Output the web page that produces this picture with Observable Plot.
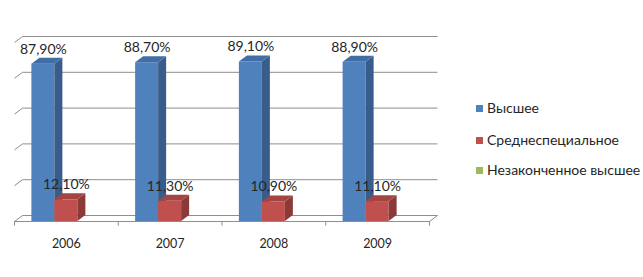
<!DOCTYPE html>
<html>
<head>
<meta charset="utf-8">
<script src="https://cdn.jsdelivr.net/npm/d3@7"></script>
<script src="https://cdn.jsdelivr.net/npm/@observablehq/plot@0.6"></script>
<style>
  html, body { margin: 0; padding: 0; background: #fff; }
  #wrap { position: relative; width: 643px; height: 277px; font-family: Lato, sans-serif; }
  #legend { position: absolute; left: 0; top: 0; }
  .li { position: absolute; left: 476px; display: flex; align-items: center; font-size: 14px; color: #262626; white-space: nowrap; line-height: 16px; }
  .sw { width: 7px; height: 7px; margin-right: 4px; }
</style>
</head>
<body>
<div id="wrap"><div id="chart"></div><div id="legend"></div></div>
<script>
const years = ["2006", "2007", "2008", "2009"];
const higher = [87.9, 88.7, 89.1, 88.9];
const secondarySpecial = [12.1, 11.3, 10.9, 11.1];
const incompleteHigher = [0, 0, 0, 0];
const seriesNames = ["Высшее", "Среднеспециальное", "Незаконченное высшее"];
const seriesFront = ["#4F81BD", "#C0504D", "#9BBB59"];
const seriesSide = ["#385D8A", "#8C3A38", "#71893F"];
const seriesTop = ["#416EA6", "#A54543", "#86A24C"];
const gridTicks = [0, 20, 40, 60, 80, 100];

const seriesValues = [higher, secondarySpecial, incompleteHigher];

// layout parameters
const W = 643, H = 277;
const mL = 14, mR = 214, mT = 42, mB = 56;
const pxPerX = (W - mL - mR) / years.length;
const pxPerY = (H - mT - mB) / 100;
const depthX = 8 / pxPerX;   // 3D depth in data units
const depthY = 6 / pxPerY;
const barW = 23 / pxPerX;
const gap0 = (1 - 3 * barW) / 2;

const bars = [];
seriesValues.forEach((vals, k) => {
  vals.forEach((v, i) => {
    if (v > 0) {
      const xl = i + gap0 + k * barW;
      bars.push({k, i, v, xl, xr: xl + barW, id: k + "-" + i});
    }
  });
});

const sidePts = bars.flatMap(b => [
  {id: b.id, k: b.k, x: b.xr, y1: 0, y2: b.v},
  {id: b.id, k: b.k, x: b.xr + depthX, y1: depthY, y2: b.v + depthY}
]);
const topPts = bars.flatMap(b => [
  {id: b.id, k: b.k, y: b.v, x1: b.xl, x2: b.xr},
  {id: b.id, k: b.k, y: b.v + depthY, x1: b.xl + depthX, x2: b.xr + depthX}
]);

const fmt = v => v.toFixed(2).replace(".", ",") + "%";
const grid = "#8E8E8E";

const marks = [
  Plot.link(gridTicks, {x1: depthX, x2: years.length + depthX, y1: d => d + depthY, y2: d => d + depthY, stroke: grid, strokeWidth: 1}),
  Plot.link(gridTicks, {x1: 0, x2: depthX, y1: d => d, y2: d => d + depthY, stroke: grid, strokeWidth: 1}),
  Plot.link([0], {x1: 0, x2: years.length, y1: 0, y2: 0, stroke: grid, strokeWidth: 1}),
  Plot.link([0], {x1: years.length, x2: years.length + depthX, y1: 0, y2: depthY, stroke: grid, strokeWidth: 1}),
  Plot.ruleX(d3.range(years.length + 1), {y1: 0, y2: -2.6, stroke: grid, strokeWidth: 1}),
];

[0, 1, 2].forEach(k => {
  const bk = bars.filter(b => b.k === k);
  if (!bk.length) return;
  marks.push(
    Plot.rect(bk, {x1: "xl", x2: "xr", y1: 0, y2: "v", fill: seriesFront[k]}),
    Plot.areaY(sidePts.filter(p => p.k === k), {x: "x", y1: "y1", y2: "y2", z: "id", fill: seriesSide[k], curve: "linear"}),
    Plot.areaX(topPts.filter(p => p.k === k), {y: "y", x1: "x1", x2: "x2", z: "id", fill: seriesTop[k], curve: "linear"})
  );
});

marks.push(
  Plot.text(bars, {x: b => (b.xl + b.xr) / 2, y: b => b.v + depthY, dy: -9, text: b => fmt(b.v), fill: "#262626", fontSize: 14}),
  Plot.text(years, {x: (d, i) => i + 0.5, y: 0, dy: 22, text: d => d, fill: "#262626", fontSize: 12.5})
);

const chart = Plot.plot({
  width: W, height: H,
  marginLeft: mL, marginRight: mR, marginTop: mT, marginBottom: mB,
  x: {type: "linear", domain: [0, years.length], axis: null},
  y: {type: "linear", domain: [0, 100], axis: null},
  style: {fontFamily: "Lato, sans-serif", background: "#fff", overflow: "visible"},
  marks
});
document.getElementById("chart").appendChild(chart);

const legendTops = [108, 140, 170];
const lg = document.getElementById("legend");
seriesNames.forEach((name, k) => {
  const item = document.createElement("div");
  item.className = "li";
  item.style.top = (legendTops[k] - 8) + "px";
  const sw = document.createElement("span");
  sw.className = "sw";
  sw.style.background = seriesFront[k];
  const t = document.createElement("span");
  t.textContent = name;
  item.appendChild(sw);
  item.appendChild(t);
  lg.appendChild(item);
});
</script>
</body>
</html>
